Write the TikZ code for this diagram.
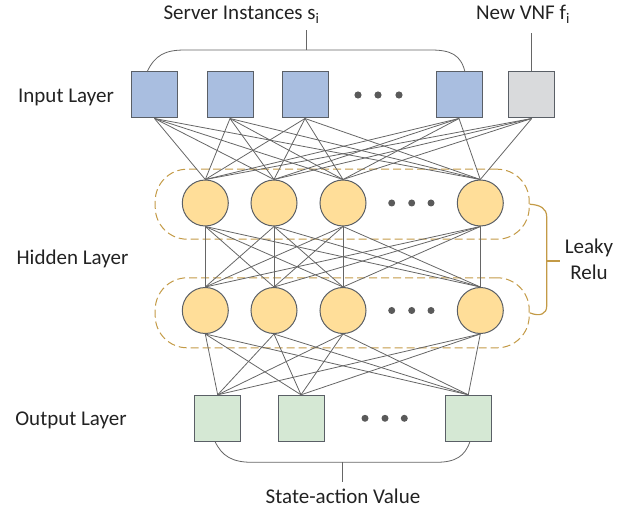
\documentclass[tikz,border=0pt]{standalone}
\usepackage{fontspec}
\setmainfont{Carlito}
\definecolor{inblue}{HTML}{A9BEE0}
\definecolor{vnfgray}{HTML}{D9DADC}
\definecolor{hidyel}{HTML}{FFDE99}
\definecolor{outgreen}{HTML}{D5E8D4}
\definecolor{gold}{HTML}{C39A46}
\definecolor{linegray}{HTML}{666666}
\definecolor{bordergray}{HTML}{5A5F66}
\definecolor{dotgray}{HTML}{5A5A5A}
\definecolor{txt}{HTML}{222222}
\begin{document}
\begin{tikzpicture}[x=1pt,y=-1pt,
  conn/.style={draw=linegray, line width=0.8pt},
  sq/.style={draw=bordergray, line width=1pt, minimum size=46pt, inner sep=0pt},
  inbox/.style={sq, fill=inblue},
  vnfbox/.style={sq, fill=vnfgray},
  outbox/.style={sq, fill=outgreen},
  neuron/.style={circle, draw=bordergray, line width=1pt, fill=hidyel, minimum size=46pt, inner sep=0pt},
  grp/.style={draw=gold, line width=1pt, dash pattern=on 8pt off 4pt, rounded corners=32pt, minimum width=374pt, minimum height=70pt, inner sep=0pt},
  brace/.style={draw=linegray, line width=0.8pt},
  goldbrace/.style={draw=gold, line width=1.2pt},
  lbl/.style={font=\fontsize{21}{25}\selectfont, text=txt, anchor=base, inner sep=0pt},
  dotfill/.style={fill=dotgray}
]
\useasboundingbox (0,0) rectangle (633,508);

% groups
\node[grp] (g1) at (342.2,204.2) {};
\node[grp] (g2) at (342.2,312.8) {};

% input layer
\node[inbox] (i1) at (154.5,95) {};
\node[inbox] (i2) at (230,95) {};
\node[inbox] (i3) at (305,95) {};
\node[inbox] (i4) at (459,95) {};
\node[vnfbox] (i5) at (531.7,95) {};

% hidden layers
\foreach \n/\x in {1/205.3,2/274,3/343,4/480.3}{
  \node[neuron] (ha\n) at (\x,203) {};
  \node[neuron] (hb\n) at (\x,310.5) {};
}

% output layer
\node[outbox] (o1) at (217.7,418.3) {};
\node[outbox] (o2) at (301,418.3) {};
\node[outbox] (o3) at (468.3,418.3) {};

% connections
\foreach \a in {i1,i2,i3,i4,i5}
  \foreach \b in {ha1,ha2,ha3,ha4}
    \draw[conn] (\a.south) -- (\b.north);
\foreach \a in {ha1,ha2,ha3,ha4}
  \foreach \b in {hb1,hb2,hb3,hb4}
    \draw[conn] (\a.south) -- (\b.north);
\foreach \a in {hb1,hb2,hb3,hb4}
  \foreach \b in {o1,o2,o3}
    \draw[conn] (\a.south) -- (\b.north);

% dots
\foreach \x in {358,378,399} \fill[dotfill] (\x,95) circle (3.6pt);
\foreach \x in {391.7,411.7,431} {\fill[dotfill] (\x,203) circle (3.5pt); \fill[dotfill] (\x,310.5) circle (3.5pt);}
\foreach \x in {365,385,404.3} \fill[dotfill] (\x,418.3) circle (3.5pt);

% top brace
\coordinate (tb1) at (147,72);
\coordinate (tb2) at (465,72);
\coordinate (tbm) at (306.7,50);
\coordinate (tbt) at (306.7,30);
\draw[brace] (tb1) .. controls (155,55) and (165,50) .. (185,50) -- (431,50) .. controls (451,50) and (461,55) .. (tb2);
\draw[brace] (tbm) -- (tbt);
\node[lbl] (tsrv) at (241.5,20) {Server Instances s\textsubscript{i}};
\coordinate (vnft) at (531.7,33);
\draw[brace] (i5.north) -- (vnft);
\node[lbl] (tvnf) at (523,20) {New VNF f\textsubscript{i}};

% bottom brace
\coordinate (bb1) at (215,441.5);
\coordinate (bb2) at (470,441.5);
\coordinate (bbm) at (342.7,462.3);
\coordinate (bbt) at (342.7,482);
\draw[brace] (bb1) .. controls (222,456) and (232,462.3) .. (252,462.3) -- (436,462.3) .. controls (456,462.3) and (465,456) .. (bb2);
\draw[brace] (bbm) -- (bbt);
\node[lbl] (tsav) at (343,503) {State-action Value};

% right gold brace
\coordinate (rbm) at (546.7,261);
\coordinate (rbt) at (560,261);
\draw[goldbrace] (g1.east) .. controls (540,205) and (546.7,208) .. (546.7,217) -- (546.7,306) .. controls (546.7,314) and (540,317) .. (g2.east);
\draw[goldbrace] (rbm) -- (rbt);
\node[lbl] (tleaky) at (589,254) {Leaky};
\node[lbl] (trelu) at (589,280) {Relu};

% layer labels
\node[lbl] (tin) at (66,103) {Input Layer};
\node[lbl] (thid) at (72.5,265) {Hidden Layer};
\node[lbl] (tout) at (71,425) {Output Layer};
\end{tikzpicture}
\end{document}
